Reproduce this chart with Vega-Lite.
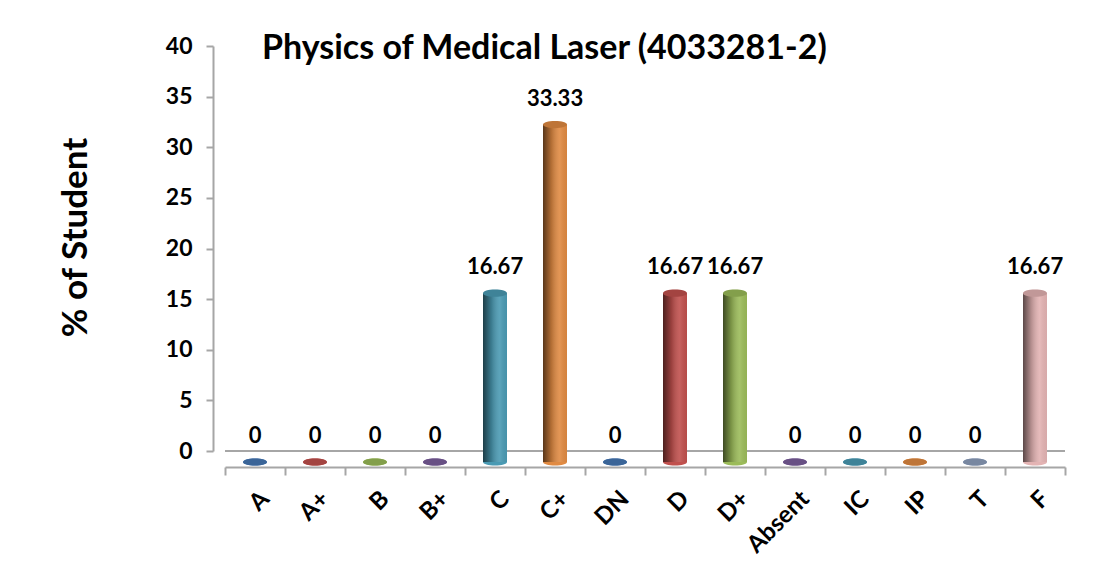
{
  "$schema": "https://vega.github.io/schema/vega-lite/v6.json",
  "width": 840,
  "height": 416,
  "autosize": "none",
  "padding": {"left": 225, "top": 46, "right": 45, "bottom": 117},
  "background": "white",
  "config": {"view": {"stroke": null}, "font": "Lato"},
  "title": {
    "text": "Physics of Medical Laser (4033281-2)",
    "anchor": "start",
    "frame": "group",
    "font": "Lato",
    "fontSize": 34,
    "fontWeight": "bold",
    "color": "black",
    "baseline": "alphabetic",
    "dx": 37,
    "dy": 28,
    "offset": -30
  },
  "data": {
    "values": [
      {"grade": "A", "pct": 0},
      {"grade": "A+", "pct": 0},
      {"grade": "B", "pct": 0},
      {"grade": "B+", "pct": 0},
      {"grade": "C", "pct": 16.67},
      {"grade": "C+", "pct": 33.33},
      {"grade": "DN", "pct": 0},
      {"grade": "D", "pct": 16.67},
      {"grade": "D+", "pct": 16.67},
      {"grade": "Absent", "pct": 0},
      {"grade": "IC", "pct": 0},
      {"grade": "IP", "pct": 0},
      {"grade": "T", "pct": 0},
      {"grade": "F", "pct": 16.67}
    ]
  },
  "resolve": {"scale": {"y": "independent"}, "axis": {"y": "independent"}},
  "layer": [
    {
      "mark": {"type": "rule", "color": "#a6a6a6", "strokeWidth": 2},
      "encoding": {
        "y": {
          "datum": 0,
          "type": "quantitative",
          "scale": {"domain": [0, 40], "range": [405, 0], "nice": false, "zero": false},
          "axis": {
            "orient": "left",
            "offset": 12,
            "values": [0, 5, 10, 15, 20, 25, 30, 35, 40],
            "grid": false,
            "domainColor": "#a6a6a6",
            "domainWidth": 2,
            "tickColor": "#a6a6a6",
            "tickWidth": 2,
            "tickSize": 7,
            "labelFont": "Lato",
            "labelFontSize": 23,
            "labelFontWeight": "bold",
            "labelColor": "black",
            "labelPadding": 14,
            "title": "% of Student",
            "titleFont": "Lato",
            "titleFontSize": 35,
            "titleFontWeight": "bold",
            "titleColor": "black",
            "titleAngle": -90,
            "titleAlign": "center",
            "titleBaseline": "middle",
            "titleX": -138,
            "titleY": 191
          }
        }
      }
    },
    {
      "encoding": {
        "x": {
          "field": "grade",
          "type": "nominal",
          "sort": ["A", "A+", "B", "B+", "C", "C+", "DN", "D", "D+", "Absent", "IC", "IP", "T", "F"],
          "scale": {"paddingInner": 0, "paddingOuter": 0},
          "axis": {
            "title": null,
            "offset": 5,
            "domainColor": "#a6a6a6",
            "domainWidth": 2,
            "tickColor": "#a6a6a6",
            "tickWidth": 2,
            "tickSize": 8,
            "tickBand": "extent",
            "tickOffset": 10,
            "labelOffset": 10,
            "labelAngle": -45,
            "labelAlign": "right",
            "labelBaseline": "middle",
            "labelFont": "Lato",
            "labelFontSize": 24,
            "labelFontWeight": "bold",
            "labelColor": "black",
            "labelPadding": 20
          }
        },
        "color": {
          "field": "grade",
          "type": "nominal",
          "legend": null,
          "scale": {
            "domain": ["A", "A+", "B", "B+", "C", "C+", "DN", "D", "D+", "Absent", "IC", "IP", "T", "F"],
            "range": ["#4677b3", "#c0504d", "#9bbb59", "#7b5f9c", "#4a9ab3", "#e08a42", "#4677b3", "#c0504d", "#9bbb59", "#7b5f9c", "#4a9ab3", "#e08a42", "#8d9fbd", "#e3b3b3"]
          }
        }
      },
      "layer": [
        {
          "mark": {"type": "point", "shape": "M -1 0 A 1 0.3 0 1 0 1 0 A 1 0.3 0 1 0 -1 0 Z", "size": 576, "filled": true, "opacity": 1},
          "encoding": {
            "y": {"datum": 0, "type": "quantitative", "scale": {"domain": [0, 40], "range": [416, 11], "nice": false, "zero": true}, "axis": null}
          }
        },
        {
          "mark": {"type": "bar", "width": {"band": 0.4}},
          "encoding": {
            "y": {"field": "pct", "type": "quantitative", "axis": null}
          }
        },
        {
          "mark": {
            "type": "bar",
            "width": {"band": 0.4},
            "fill": {
              "gradient": "linear",
              "x1": 0, "x2": 1, "y1": 0, "y2": 0,
              "stops": [
                {"offset": 0, "color": "rgba(0,0,0,0.6)"},
                {"offset": 0.35, "color": "rgba(0,0,0,0.2)"},
                {"offset": 0.7, "color": "rgba(255,255,255,0.1)"},
                {"offset": 1, "color": "rgba(0,0,0,0.05)"}
              ]
            }
          },
          "encoding": {
            "y": {"field": "pct", "type": "quantitative", "axis": null}
          }
        },
        {
          "mark": {"type": "point", "shape": "M -1 0 A 1 0.3 0 1 0 1 0 A 1 0.3 0 1 0 -1 0 Z", "size": 576, "filled": true, "opacity": 1},
          "encoding": {
            "y": {"field": "pct", "type": "quantitative", "axis": null}
          }
        },
        {
          "mark": {"type": "point", "shape": "M -1 0 A 1 0.3 0 1 0 1 0 A 1 0.3 0 1 0 -1 0 Z", "size": 576, "filled": true, "opacity": 0.15, "color": "black"},
          "encoding": {
            "y": {"field": "pct", "type": "quantitative", "axis": null},
            "color": {"value": "black"}
          }
        },
        {
          "mark": {"type": "text", "dy": -19, "baseline": "alphabetic", "font": "Lato", "fontSize": 22, "fontWeight": "bold", "color": "black"},
          "encoding": {
            "y": {"field": "pct", "type": "quantitative", "axis": null},
            "text": {"field": "pct", "type": "quantitative"},
            "color": {"value": "black"}
          }
        }
      ]
    }
  ]
}
